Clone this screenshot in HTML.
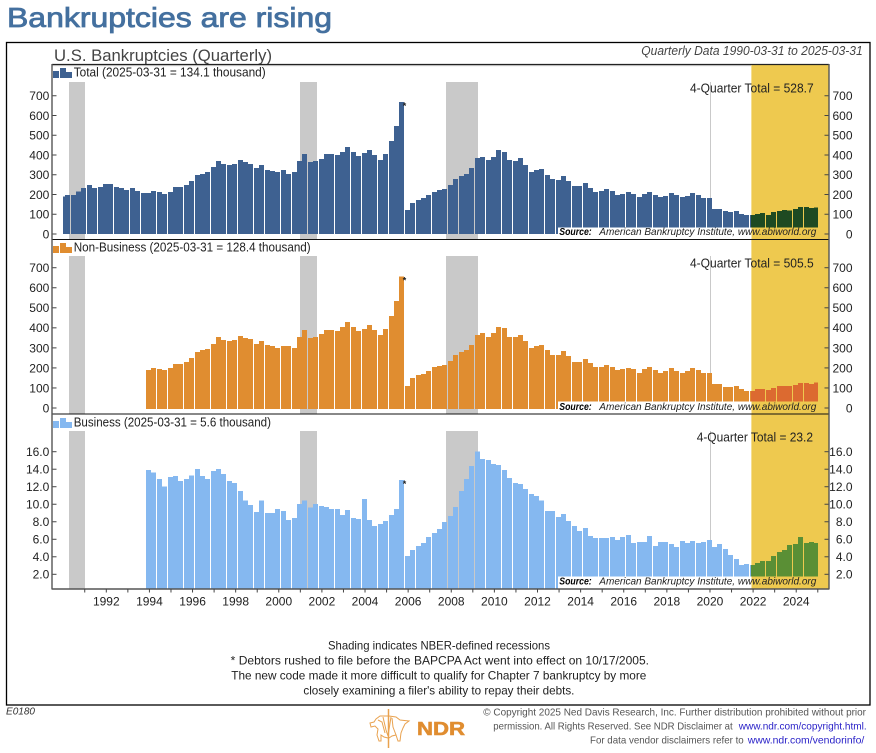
<!DOCTYPE html>
<html>
<head>
<meta charset="utf-8">
<title>Bankruptcies are rising</title>
<style>
html,body{margin:0;padding:0;background:#fff;width:876px;height:753px;overflow:hidden}
svg{display:block}
text{font-family:"Liberation Sans",sans-serif}
</style>
</head>
<body>
<svg id="chart" xmlns="http://www.w3.org/2000/svg" width="876" height="753" viewBox="0 0 876 753">
  <rect x="0" y="0" width="876" height="753" fill="#fff"/>
  <text x="7" y="27" font-size="28" fill="#44709f" stroke="#44709f" stroke-width="0.8" textLength="325" lengthAdjust="spacingAndGlyphs">Bankruptcies are rising</text>
  <rect x="6.5" y="42.5" width="863.5" height="662.5" fill="none" stroke="#000" stroke-width="1.3"/>
  <text x="54" y="61" font-size="16.5" fill="#444" textLength="218" lengthAdjust="spacingAndGlyphs">U.S. Bankruptcies (Quarterly)</text>
  <text x="641.3" y="55" font-size="12.5" font-style="italic" fill="#444" textLength="221.4" lengthAdjust="spacingAndGlyphs">Quarterly Data 1990-03-31 to 2025-03-31</text>
  <g id="plots"></g>
  <g id="frame"></g>

  <g font-size="12" fill="#222">
    <text x="328" y="649.5" textLength="222" lengthAdjust="spacingAndGlyphs">Shading indicates NBER-defined recessions</text>
    <text x="230.7" y="664.5" textLength="418.3" lengthAdjust="spacingAndGlyphs">* Debtors rushed to file before the BAPCPA Act went into effect on 10/17/2005.</text>
    <text x="231.3" y="679.5" textLength="415" lengthAdjust="spacingAndGlyphs">The new code made it more difficult to qualify for Chapter 7 bankruptcy by more</text>
    <text x="303.4" y="694.5" textLength="271" lengthAdjust="spacingAndGlyphs">closely examining a filer's ability to repay their debts.</text>
  </g>

  <text x="6" y="714.3" font-size="10" font-style="italic" fill="#333" textLength="29" lengthAdjust="spacingAndGlyphs">E0180</text>

  <g fill="none" stroke="#e9a24f" stroke-width="1">
    <line x1="388.5" y1="709" x2="388.5" y2="748" stroke-width="1.5"/>
    <polyline points="388,716 380,716 376,719 374,722 370,723 371,727 375,726 378,729 377,735 379,741 381,741 381,735 384,737 388,738"/>
    <polyline points="389,716 396,717 400,720 409,721 405,724 403,728 401,733 400,741 398,741 396,735 392,736 389,738"/>
    <polyline points="378,720 382,722 385,733"/>
    <polyline points="392,718 393,727 396,735"/>
    <polyline points="383,717 386,730 388,736 391,717"/>
  </g>
  <text x="417" y="735" font-size="18.5" font-weight="bold" fill="#e08d30" stroke="#e08d30" stroke-width="0.6" textLength="48" lengthAdjust="spacingAndGlyphs">NDR</text>

  <g font-size="10.5" fill="#555">
    <text x="483.3" y="715.7" textLength="382.7" lengthAdjust="spacingAndGlyphs">© Copyright 2025 Ned Davis Research, Inc. Further distribution prohibited without prior</text>
    <text x="493.3" y="729.7" textLength="239.4" lengthAdjust="spacingAndGlyphs">permission. All Rights Reserved. See NDR Disclaimer at</text>
    <text x="738.7" y="729.7" fill="#2a22c8" textLength="128" lengthAdjust="spacingAndGlyphs">www.ndr.com/copyright.html.</text>
    <text x="590" y="743.7" textLength="153.7" lengthAdjust="spacingAndGlyphs">For data vendor disclaimers refer to</text>
    <text x="747.7" y="743.7" fill="#2a22c8" textLength="116.6" lengthAdjust="spacingAndGlyphs">www.ndr.com/vendorinfo/</text>
  </g>
</svg>
<script>
// Data: one value per quarter, starting at 1990 Q1. null = series not published yet.
const firstYear = 1990;
const totalValues = [189,197,197,214,232,248,232,238,253,253,238,232,222,232,217,207,207,217,212,202,212,238,238,248,268,298,303,313,339,369,354,349,354,374,364,354,334,349,324,319,313,324,303,313,369,405,364,369,379,405,405,400,415,440,415,395,410,425,400,374,405,470,546,668,121,157,172,182,197,212,222,228,248,278,293,303,334,384,389,374,389,425,415,374,369,384,349,313,324,329,298,278,273,293,268,243,243,258,232,212,217,228,217,197,202,212,202,187,202,212,197,187,192,207,197,187,192,207,197,182,182,126,126,116,111,116,101,96,96,101,106,96,111,116,121,118,126,137,137,132,134];
const nonBusinessValues = [null,null,null,null,null,null,null,null,null,null,null,null,null,null,null,null,190,200,195,190,200,220,220,230,250,280,290,295,320,355,340,335,340,360,350,345,320,335,315,310,300,310,310,300,355,390,350,355,370,390,390,385,405,430,405,385,395,415,390,365,395,460,535,655,110,150,165,170,185,205,210,215,235,265,280,290,315,365,375,355,375,405,400,355,355,365,335,300,310,315,290,265,265,285,260,230,230,245,225,205,205,215,205,190,195,200,195,175,195,205,190,175,185,200,185,175,185,200,190,175,175,120,120,105,105,110,95,85,85,95,95,90,100,110,110,110,115,125,125,120,128];
const businessValues = [null,null,null,null,null,null,null,null,null,null,null,null,null,null,null,null,13.9,13.6,12.9,12.0,13.1,13.2,12.65,12.9,13.3,14.0,13.2,12.9,13.8,14.0,13.45,12.65,12.4,11.5,10.4,9.9,9.1,10.4,9.0,9.0,9.45,9.2,8.2,8.45,10.0,10.4,9.6,10.0,9.8,9.7,9.45,9.45,8.8,9.35,8.45,8.3,10.6,8.2,7.5,7.75,8.1,8.8,9.45,12.75,4.1,4.8,5.25,5.6,6.25,6.7,7.2,8.0,8.65,9.7,11.5,12.9,14.35,16.0,15.15,15.05,14.6,14.5,13.9,13.0,12.4,12.3,11.75,11.15,10.95,10.4,9.2,9.2,8.55,8.9,8.1,7.5,6.95,7.3,6.4,6.15,6.15,6.15,6.25,5.9,6.25,6.5,5.6,5.7,5.7,6.4,5.25,5.7,5.7,5.45,5.1,5.8,5.6,5.8,5.6,5.7,5.9,5.1,5.45,4.9,4.2,3.75,3.05,3.2,3.05,3.3,3.5,3.5,4.1,4.55,4.8,5.35,5.45,6.25,5.6,5.7,5.6];
const countTickLabels = ["0","100","200","300","400","500","600","700"];
const businessTickLabels = ["2.0","4.0","6.0","8.0","10.0","12.0","14.0","16.0"];
const axisYears = [1991,1992,1993,1994,1995,1996,1997,1998,1999,2000,2001,2002,2003,2004,2005,2006,2007,2008,2009,2010,2011,2012,2013,2014,2015,2016,2017,2018,2019,2020,2021,2022,2023,2024,2025];
const recessionStart = [1990.25,2001,2007.75,2020];
const recessionEnd = [1991,2001.75,2009.25,2020.05];
const highlightStart = 2021.92;
const footnoteQuarter = 63;

const NS = 'http://www.w3.org/2000/svg';
const plots = document.getElementById('plots');
const frame = document.getElementById('frame');

// Axis functions
const xScale = t => 106.3 + (t - 1992) * 21.56;
const barLeft = q => Math.round(xScale(firstYear + q / 4) - 3.4);
const PLOT_LEFT = 52, PLOT_RIGHT = 829, BAR_MIN = 63, BAR_MAX = 818, SOURCE_LEFT = 558;

const panels = [
  {name:'total', values:totalValues, labels:countTickLabels, y:v => 234 - v * 0.1975, top:64.5, bottom:239.5, bandTop:82, barBase:234,
   color:'#3e6191', dark:'#1e4a22', label:'Total (2025-03-31 = 134.1 thousand)', labelW:192, labelY:76.7, sumText:'4-Quarter Total = 528.7', sumX:690, sumW:123.7, sumY:92.7, srcBase:235, srcTop:227.3},
  {name:'non-business', values:nonBusinessValues, labels:countTickLabels, y:v => 408 - v * 0.2004, top:239.5, bottom:414, bandTop:256, barBase:409,
   color:'#e08d30', dark:'#dc6a30', label:'Non-Business (2025-03-31 = 128.4 thousand)', labelW:237, labelY:251.7, sumText:'4-Quarter Total = 505.5', sumX:690, sumW:123.7, sumY:267.7, srcBase:410, srcTop:401.7},
  {name:'business', values:businessValues, labels:businessTickLabels, y:v => 574.3 - (v - 2) * 8.757, top:414, bottom:589, bandTop:431, barBase:589,
   color:'#85b8f0', dark:'#5a8f35', label:'Business (2025-03-31 = 5.6 thousand)', labelW:197.3, labelY:426.7, sumText:'4-Quarter Total = 23.2', sumX:696.7, sumW:116.3, sumY:441.7, srcBase:584.3, srcTop:576.7}
];

function svgEl(tag, attrs, parent){
  const el = document.createElementNS(NS, tag);
  for (const k in attrs) el.setAttribute(k, attrs[k]);
  parent.appendChild(el);
  return el;
}

const yellowX = xScale(highlightStart);

const highlight = svgEl('rect', {x:yellowX, y:64.5, width:PLOT_RIGHT - yellowX, height:524.5, fill:'#eec94f'}, plots);



panels.forEach(p => {
  const g = svgEl('g', {'shape-rendering':'crispEdges'}, plots);
  
  

  recessionStart.forEach((s, i) => {
    const x0 = Math.round(xScale(s));
    const w = Math.max(1, Math.round(xScale(recessionEnd[i])) - x0);
    const band = svgEl('rect', {x:x0, y:p.bandTop, width:w, height:p.bottom - p.bandTop, fill:'#c9c9c9'}, g);
    
    
  });

  p.values.forEach((v, q) => {
    if (v === null) return;
    const left = Math.max(BAR_MIN, barLeft(q));
    const right = Math.min(BAR_MAX, barLeft(q) + 5);
    const top = p.y(v);
    const split = Math.round(yellowX);
    if (left < split) {
      const bar = svgEl('rect', {x:left, y:top, width:Math.min(right, split) - left, height:p.barBase - top, fill:p.color}, g);
      
      
    }
    if (right > split) {
      const hl = Math.max(left, split);
      const bar2 = svgEl('rect', {x:hl, y:top, width:right - hl, height:p.barBase - top, fill:p.dark}, g);
      
      
    }
  });

  const cover1 = svgEl('rect', {x:SOURCE_LEFT, y:p.srcTop, width:yellowX - SOURCE_LEFT, height:p.bottom - p.srcTop, fill:'#fff'}, g);
  
  
  const cover2 = svgEl('rect', {x:yellowX, y:p.srcTop, width:PLOT_RIGHT - yellowX, height:p.bottom - p.srcTop, fill:'#eec94f'}, g);
  
  

  const t1 = svgEl('text', {x:559.3, y:p.srcBase, 'font-size':10.5, 'font-style':'italic', 'font-weight':'bold', fill:'#000', textLength:32.4, lengthAdjust:'spacingAndGlyphs'}, plots);
  
  
  t1.textContent = 'Source:';
  const t2 = svgEl('text', {x:599.3, y:p.srcBase, 'font-size':10.5, 'font-style':'italic', fill:'#222', textLength:217, lengthAdjust:'spacingAndGlyphs'}, plots);
  
  
  t2.textContent = 'American Bankruptcy Institute, www.abiworld.org';

  // Legend swatch
  const lb = p.labelY + 1.3;
  [[53,6,7],[60,6,10],[66,6,6]].forEach(s => {
    const sw = svgEl('rect', {x:s[0], y:lb - s[2], width:s[1], height:s[2], fill:p.color, 'shape-rendering':'crispEdges'}, plots);
    
    
  });
  const legend = svgEl('text', {x:73.7, y:p.labelY, 'font-size':12.5, fill:'#222', textLength:p.labelW, lengthAdjust:'spacingAndGlyphs'}, plots);
  
  
  legend.textContent = p.label;

  const sum = svgEl('text', {x:p.sumX, y:p.sumY, 'font-size':13, fill:'#222', textLength:p.sumW, lengthAdjust:'spacingAndGlyphs'}, plots);
  
  
  sum.textContent = p.sumText;

  const star = svgEl('text', {x:barLeft(footnoteQuarter) + 5.5, y:p.y(p.values[footnoteQuarter]) + 7, 'font-size':9, 'font-weight':'bold', 'text-anchor':'middle', fill:'#222'}, plots);
  
  
  star.textContent = '*';

  // Y ticks
  p.labels.forEach(lbl => {
    const y = p.y(parseFloat(lbl));
    const lt = svgEl('line', {x1:PLOT_LEFT, x2:PLOT_LEFT + 4.5, y1:y, y2:y, stroke:'#444', 'stroke-width':1}, frame);
    
    
    const rt = svgEl('line', {x1:PLOT_RIGHT - 4.5, x2:PLOT_RIGHT, y1:y, y2:y, stroke:'#444', 'stroke-width':1}, frame);
    
    
    const ll = svgEl('text', {x:49.3, y:y + 4.4, 'font-size':12, 'text-anchor':'end', fill:'#222'}, frame);
    
    
    ll.textContent = lbl;
    const rl = svgEl('text', {x:852.5, y:y + 4.4, 'font-size':12, 'text-anchor':'end', fill:'#222'}, frame);
    
    
    rl.textContent = lbl;
  });
});

// Frame lines
const topLine = svgEl('line', {x1:PLOT_LEFT, x2:PLOT_RIGHT, y1:64.5, y2:64.5, stroke:'#222', 'stroke-width':1.2}, frame);


const topShade = svgEl('line', {x1:PLOT_LEFT, x2:751, y1:65.6, y2:65.6, stroke:'#bbb', 'stroke-width':1}, frame);


const divider1 = svgEl('line', {x1:PLOT_LEFT, x2:PLOT_RIGHT, y1:239.5, y2:239.5, stroke:'#111', 'stroke-width':1.1}, frame);


const divider2 = svgEl('line', {x1:PLOT_LEFT, x2:PLOT_RIGHT, y1:414, y2:414, stroke:'#111', 'stroke-width':1.1}, frame);


const bottomLine = svgEl('line', {x1:PLOT_LEFT, x2:PLOT_RIGHT, y1:589, y2:589, stroke:'#555', 'stroke-width':1.4}, frame);


const leftLine = svgEl('line', {x1:PLOT_LEFT, x2:PLOT_LEFT, y1:64, y2:589.5, stroke:'#555', 'stroke-width':1.4}, frame);


const rightLine = svgEl('line', {x1:PLOT_RIGHT, x2:PLOT_RIGHT, y1:64, y2:589.5, stroke:'#555', 'stroke-width':1.4}, frame);



// X axis
axisYears.forEach(yr => {
  const x = xScale(yr);
  const tick = svgEl('line', {x1:x, x2:x, y1:589, y2:592.5, stroke:'#444', 'stroke-width':1}, frame);
  
  
  if (yr % 2 === 0) {
    const lab = svgEl('text', {x:x, y:605.7, 'font-size':12, 'text-anchor':'middle', fill:'#222'}, frame);
    
    
    lab.textContent = String(yr);
  }
});
</script>
</body>
</html>
